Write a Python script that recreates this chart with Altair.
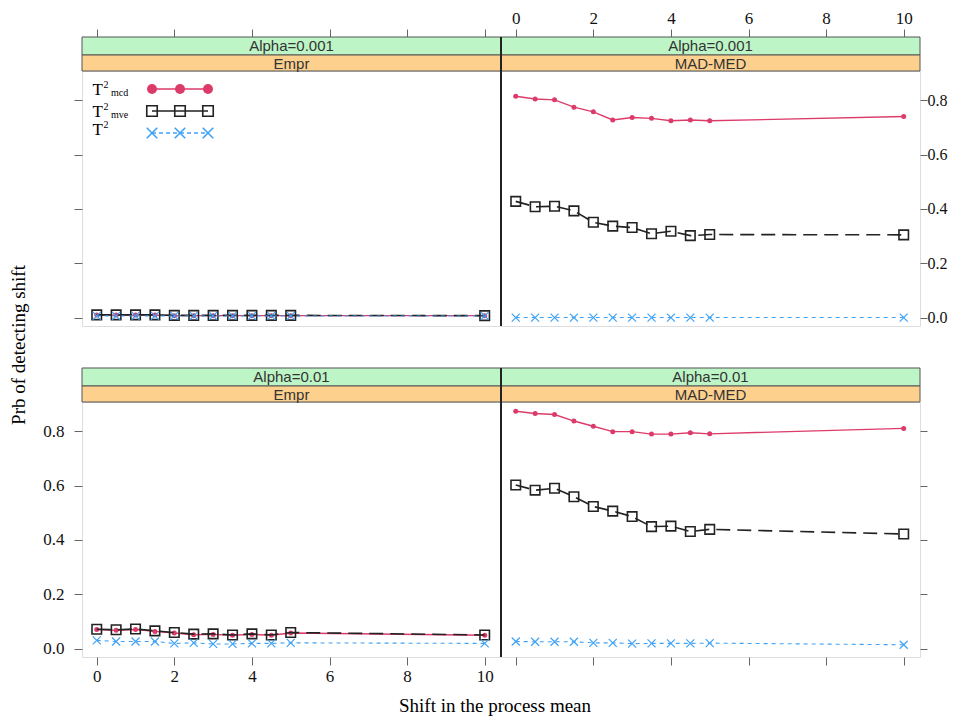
import altair as alt
import pandas as pd

# ---------------- data ----------------
shift = [0, 0.5, 1, 1.5, 2, 2.5, 3, 3.5, 4, 4.5, 5, 10]

# Alpha=0.001, Empr
e001_mcd = [0.010, 0.010, 0.010, 0.010, 0.008, 0.008, 0.008, 0.008, 0.008, 0.008, 0.008, 0.008]
e001_mve = [0.011, 0.011, 0.011, 0.011, 0.009, 0.009, 0.009, 0.009, 0.009, 0.009, 0.009, 0.008]
e001_t2 = [0.007, 0.007, 0.007, 0.007, 0.007, 0.007, 0.007, 0.007, 0.007, 0.007, 0.007, 0.007]
# Alpha=0.001, MAD-MED
m001_mcd = [0.814, 0.804, 0.801, 0.774, 0.757, 0.727, 0.736, 0.733, 0.724, 0.727, 0.724, 0.740]
m001_mve = [0.428, 0.408, 0.410, 0.393, 0.351, 0.337, 0.332, 0.309, 0.318, 0.302, 0.306, 0.305]
m001_t2 = [0.001, 0.001, 0.001, 0.001, 0.001, 0.001, 0.001, 0.001, 0.001, 0.001, 0.001, 0.001]
# Alpha=0.01, Empr
e01_mcd = [0.071, 0.068, 0.071, 0.064, 0.058, 0.052, 0.053, 0.050, 0.053, 0.050, 0.058, 0.050]
e01_mve = [0.072, 0.070, 0.073, 0.066, 0.060, 0.054, 0.055, 0.051, 0.055, 0.051, 0.060, 0.051]
e01_t2 = [0.031, 0.027, 0.027, 0.027, 0.020, 0.022, 0.018, 0.018, 0.020, 0.020, 0.022, 0.020]
# Alpha=0.01, MAD-MED
m01_mcd = [0.873, 0.865, 0.861, 0.837, 0.818, 0.798, 0.798, 0.789, 0.789, 0.794, 0.790, 0.810]
m01_mve = [0.602, 0.583, 0.590, 0.559, 0.523, 0.506, 0.486, 0.449, 0.451, 0.431, 0.439, 0.422]
m01_t2 = [0.027, 0.026, 0.026, 0.026, 0.022, 0.022, 0.019, 0.020, 0.020, 0.020, 0.021, 0.015]

x_ticks = [0, 2, 4, 6, 8, 10]
y_ticks = [0.0, 0.2, 0.4, 0.6, 0.8]

# ---------------- styling ----------------
W, H = 419, 255
XDOM = [-0.38, 10.42]
YDOM = [-0.03, 0.907]
RED = "#dc3b6a"
BLUE = "#3fa2f7"
BLACK = "#222222"
XSHAPE = "M-1,-1L1,1M1,-1L-1,1"
SERIF = "Liberation Serif"
SANS = "Liberation Sans"
one = pd.DataFrame({"k": [0]})


def axis_x(orient, labels):
    return alt.Axis(orient=orient, values=x_ticks, labels=labels, title=None,
                    domain=False, grid=False, tickSize=8, tickColor="#666",
                    labelFont=SERIF, labelFontSize=17, labelColor="#111",
                    labelPadding=2 if orient == "top" else 3,
                    offset=34 if orient == "top" else 0, format="d",
                    labelFlush=False, labelOverlap=False)


def axis_y(orient, labels):
    left = orient == "left"
    return alt.Axis(orient=orient, values=y_ticks, labels=labels, title=None,
                    domain=False, grid=False, tickSize=8 if left else 7, tickColor="#666",
                    labelFont=SERIF, labelFontSize=17 if left else 16, labelColor="#111",
                    labelPadding=10 if left else 0, format=".1f",
                    labelFlush=False, labelOverlap=False)


def series_layers(df, xa, ya):
    X = alt.X("shift:Q", scale=alt.Scale(domain=XDOM, nice=False, zero=False), axis=xa)

    def Y(f):
        return alt.Y(f"{f}:Q", scale=alt.Scale(domain=YDOM, nice=False, zero=False), axis=ya)

    base = alt.Chart(df)
    return [
        base.mark_line(color=RED, strokeWidth=1.4).encode(x=X, y=Y("mcd")),
        base.mark_point(shape="circle", filled=True, size=25, color=RED, opacity=1).encode(x=X, y=Y("mcd")),
        base.mark_line(color=BLACK, strokeWidth=1.6, strokeDash=[14, 7]).encode(x=X, y=Y("mve")),
        base.mark_point(shape="square", filled=False, size=90, color=BLACK, strokeWidth=1.6, opacity=1).encode(x=X, y=Y("mve")),
        base.mark_line(color=BLUE, strokeWidth=1.1, strokeDash=[4, 4]).encode(x=X, y=Y("t2")),
        base.mark_point(shape=XSHAPE, filled=False, size=64, color=BLUE, strokeWidth=1.2, opacity=1).encode(x=X, y=Y("t2")),
    ]


def strip_layers(s1, s2):
    c = alt.Chart(one)
    return [
        c.mark_rect(fill="#bdf5c6", stroke="#555", strokeWidth=1).encode(
            x=alt.value(0), x2=alt.value(W), y=alt.value(-34), y2=alt.value(-16)),
        c.mark_rect(fill="#fdd08d", stroke="#555", strokeWidth=1).encode(
            x=alt.value(0), x2=alt.value(W), y=alt.value(-16), y2=alt.value(0)),
        c.mark_text(font=SANS, fontSize=15, color="#333").encode(
            x=alt.value(W / 2), y=alt.value(-25), text=alt.value(s1)),
        c.mark_text(font=SANS, fontSize=15, color="#333").encode(
            x=alt.value(W / 2), y=alt.value(-7.5), text=alt.value(s2)),
    ]


def divider_layers():
    c = alt.Chart(one)
    return [c.mark_rule(color="#222", strokeWidth=2).encode(
        x=alt.value(0), y=alt.value(-34), y2=alt.value(H))]


def legend_layers():
    c = alt.Chart(one)
    out = []
    rows = [
        (18, RED, "circle", True, 100, 1.5, [1, 0], "mcd", 24, 17),
        (40, BLACK, "square", False, 110, 1.6, [1, 0], "mve", 46, 39),
        (62, BLUE, XSHAPE, False, 110, 1.6, [4, 3], None, 63.5, 56.5),
    ]
    mx = [70, 98, 126]
    for (yy, col, shp, fil, sz, sw, dash, sub, base_y, sup_y) in rows:
        out.append(c.mark_rule(color=col, strokeWidth=1.4, strokeDash=dash).encode(
            x=alt.value(mx[0]), x2=alt.value(mx[-1]), y=alt.value(yy)))
        for xx in mx:
            out.append(c.mark_point(shape=shp, filled=fil, size=sz, color=col,
                                    strokeWidth=sw, opacity=1).encode(
                x=alt.value(xx), y=alt.value(yy)))
        out.append(c.mark_text(font=SERIF, fontSize=17, color="#000", align="left",
                               baseline="alphabetic").encode(
            x=alt.value(10.5), y=alt.value(base_y), text=alt.value("T")))
        out.append(c.mark_text(font=SERIF, fontSize=10, color="#000", align="left",
                               baseline="alphabetic").encode(
            x=alt.value(21.5), y=alt.value(sup_y), text=alt.value("2")))
        if sub:
            out.append(c.mark_text(font=SERIF, fontSize=10, color="#000", align="left",
                                   baseline="alphabetic").encode(
                x=alt.value(29), y=alt.value(base_y + 1), text=alt.value(sub)))
    return out


def title_layers():
    c = alt.Chart(one)
    return [
        c.mark_text(font=SERIF, fontSize=19, color="#000", angle=270).encode(
            x=alt.value(-63), y=alt.value(-57), text=alt.value("Prb of detecting shift")),
        c.mark_text(font=SERIF, fontSize=19, color="#000").encode(
            x=alt.value(413), y=alt.value(304), text=alt.value("Shift in the process mean")),
    ]


def panel(mcd, mve, t2, s1, s2, xo, xl, yo, yl, extra=()):
    df = pd.DataFrame({"shift": shift, "mcd": mcd, "mve": mve, "t2": t2})
    layers = strip_layers(s1, s2) + series_layers(df, axis_x(xo, xl), axis_y(yo, yl)) + list(extra)
    return alt.layer(*layers).properties(width=W, height=H)


tl = panel(e001_mcd, e001_mve, e001_t2, "Alpha=0.001", "Empr", "top", False, "left", False,
           extra=legend_layers())
tr = panel(m001_mcd, m001_mve, m001_t2, "Alpha=0.001", "MAD-MED", "top", True, "right", True,
           extra=divider_layers())
bl = panel(e01_mcd, e01_mve, e01_t2, "Alpha=0.01", "Empr", "bottom", True, "left", True,
           extra=title_layers())
br = panel(m01_mcd, m01_mve, m01_t2, "Alpha=0.01", "MAD-MED", "bottom", False, "right", False,
           extra=divider_layers())

chart = alt.concat(
    tl, tr, bl, br, columns=2,
    spacing={"row": 76, "column": 0},
    bounds="flush",
    padding={"left": 1, "top": 0, "right": 0, "bottom": 0},
).configure_view(stroke="#444", strokeWidth=1).configure(background="white")

chart.save("out.html", embed_options={"renderer": "svg", "actions": False})
